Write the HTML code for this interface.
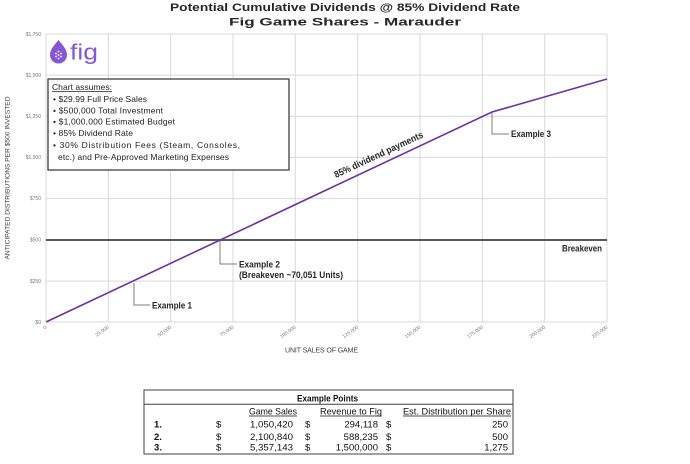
<!DOCTYPE html>
<html><head><meta charset="utf-8">
<style>
html,body{margin:0;padding:0;background:#fff;}
svg{display:block;font-family:"Liberation Sans",Arial,sans-serif;}
</style></head>
<body>
<svg width="690" height="464" viewBox="0 0 690 464" xmlns="http://www.w3.org/2000/svg">
<rect width="690" height="464" fill="#fff"/>
<!-- titles -->
<text x="345" y="11" text-anchor="middle" font-size="11" font-weight="bold" fill="#262626" textLength="350" lengthAdjust="spacingAndGlyphs">Potential Cumulative Dividends @ 85% Dividend Rate</text>
<text x="345" y="25.5" text-anchor="middle" font-size="11" font-weight="bold" fill="#262626" textLength="232" lengthAdjust="spacingAndGlyphs">Fig Game Shares - Marauder</text>

<!-- gridlines -->
<g stroke="#d9d9d9" stroke-width="1">
<line x1="46" y1="34" x2="607" y2="34"/>
<line x1="46" y1="75.1" x2="607" y2="75.1"/>
<line x1="46" y1="116.3" x2="607" y2="116.3"/>
<line x1="46" y1="157.4" x2="607" y2="157.4"/>
<line x1="46" y1="198.6" x2="607" y2="198.6"/>
<line x1="46" y1="281.1" x2="607" y2="281.1"/>
<line x1="46" y1="322" x2="607" y2="322"/>
<line x1="46" y1="34" x2="46" y2="322"/>
<line x1="108.3" y1="34" x2="108.3" y2="322"/>
<line x1="170.7" y1="34" x2="170.7" y2="322"/>
<line x1="233" y1="34" x2="233" y2="322"/>
<line x1="295.3" y1="34" x2="295.3" y2="322"/>
<line x1="357.7" y1="34" x2="357.7" y2="322"/>
<line x1="420" y1="34" x2="420" y2="322"/>
<line x1="482.3" y1="34" x2="482.3" y2="322"/>
<line x1="544.7" y1="34" x2="544.7" y2="322"/>
<line x1="607" y1="34" x2="607" y2="322"/>
</g>

<!-- y tick labels -->
<g font-size="5" fill="#777" text-anchor="end">
<text x="41" y="36">$1,750</text>
<text x="41" y="77">$1,500</text>
<text x="41" y="118">$1,250</text>
<text x="41" y="159">$1,000</text>
<text x="41" y="200">$750</text>
<text x="41" y="241.5">$500</text>
<text x="41" y="283">$250</text>
<text x="41" y="324">$0</text>
</g>

<!-- x tick labels -->
<g font-size="5" fill="#777" text-anchor="end">
<text transform="translate(47,328) rotate(-35)">0</text>
<text transform="translate(109.3,328) rotate(-35)">25,000</text>
<text transform="translate(171.7,328) rotate(-35)">50,000</text>
<text transform="translate(234,328) rotate(-35)">75,000</text>
<text transform="translate(296.3,328) rotate(-35)">100,000</text>
<text transform="translate(358.7,328) rotate(-35)">125,000</text>
<text transform="translate(421,328) rotate(-35)">150,000</text>
<text transform="translate(483.3,328) rotate(-35)">175,000</text>
<text transform="translate(545.7,328) rotate(-35)">200,000</text>
<text transform="translate(608,328) rotate(-35)">225,000</text>
</g>

<!-- axis titles -->
<text x="285" y="352.5" font-size="7" fill="#404040" textLength="73" lengthAdjust="spacing">UNIT SALES OF GAME</text>
<text transform="translate(9.5,178) rotate(-90)" text-anchor="middle" font-size="6.5" fill="#404040" textLength="163" lengthAdjust="spacingAndGlyphs">ANTICIPATED DISTRIBUTIONS  PER $500 INVESTED</text>

<!-- breakeven line -->
<line x1="46" y1="240" x2="607" y2="240" stroke="#595959" stroke-width="2"/>

<!-- series -->
<polyline points="46,322 492,112 607,79" fill="none" stroke="#7030a0" stroke-width="1.6"/>

<!-- callouts -->
<g stroke="#7f7f7f" stroke-width="1" fill="none">
<polyline points="134,283 134,305 150,305"/>
<polyline points="220,241 220,264 237,264"/>
<polyline points="492,113 492,134 509,134"/>
</g>
<g font-size="9.5" font-weight="bold" fill="#262626">
<text x="152" y="308.5" textLength="40" lengthAdjust="spacingAndGlyphs">Example 1</text>
<text x="239" y="267.5" textLength="41" lengthAdjust="spacingAndGlyphs">Example 2</text>
<text x="239" y="278" textLength="104" lengthAdjust="spacingAndGlyphs">(Breakeven ~70,051 Units)</text>
<text x="511" y="137" textLength="40" lengthAdjust="spacingAndGlyphs">Example 3</text>
<text x="562" y="251.5" textLength="40" lengthAdjust="spacingAndGlyphs">Breakeven</text>
<text transform="translate(336,178) rotate(-25)" textLength="97" lengthAdjust="spacingAndGlyphs">85% dividend payments</text>
</g>

<!-- logo -->
<path d="M58.5,40 C62,44.5 67,49 67,55 A8.5,8.5 0 0 1 50,55 C50,49 55,44.5 58.5,40 Z" fill="#8657d3"/>
<g fill="#fff">
<circle cx="58.5" cy="51.5" r="0.9"/>
<circle cx="56" cy="53.5" r="0.9"/><circle cx="61" cy="53.5" r="0.9"/>
<circle cx="58.5" cy="55" r="0.9"/>
<circle cx="56" cy="56.5" r="0.9"/><circle cx="61" cy="56.5" r="0.9"/>
<circle cx="58.5" cy="58.5" r="0.9"/>
</g>
<text x="70" y="59.5" font-size="22" fill="#8657d3" textLength="28" lengthAdjust="spacingAndGlyphs">fig</text>

<!-- assumptions box -->
<rect x="48" y="79" width="241" height="91" fill="#fff" stroke="#404040" stroke-width="1.3"/>
<g font-size="8.5" fill="#222">
<text x="52" y="90" textLength="60" lengthAdjust="spacingAndGlyphs">Chart assumes:</text>
<line x1="52" y1="91.5" x2="112" y2="91.5" stroke="#222" stroke-width="0.7"/>
<text x="53" y="102" textLength="94" lengthAdjust="spacing">• $29.99 Full Price Sales</text>
<text x="53" y="113.5" textLength="110" lengthAdjust="spacing">• $500,000 Total Investment</text>
<text x="53" y="124.5" textLength="122" lengthAdjust="spacing">• $1,000,000  Estimated Budget</text>
<text x="53" y="136" textLength="80" lengthAdjust="spacing">• 85% Dividend Rate</text>
<text x="53" y="148" textLength="187" lengthAdjust="spacing">• 30% Distribution Fees (Steam, Consoles,</text>
<text x="58" y="160" textLength="171" lengthAdjust="spacing">etc.) and Pre-Approved Marketing Expenses</text>
</g>

<!-- table -->
<rect x="144" y="390" width="369" height="64" fill="#fff" stroke="#404040" stroke-width="1"/>
<line x1="144" y1="404.3" x2="513" y2="404.3" stroke="#404040" stroke-width="1"/>
<g font-size="9.5" fill="#111">
<text x="297" y="401.5" font-weight="bold" textLength="61" lengthAdjust="spacingAndGlyphs">Example Points</text>
<text x="249" y="414.5" textLength="48" lengthAdjust="spacingAndGlyphs">Game Sales</text>
<line x1="249" y1="416" x2="297" y2="416" stroke="#111" stroke-width="0.7"/>
<text x="320" y="414.5" textLength="62" lengthAdjust="spacingAndGlyphs">Revenue to Fig</text>
<line x1="320" y1="416" x2="382" y2="416" stroke="#111" stroke-width="0.7"/>
<text x="403" y="414.5" textLength="108" lengthAdjust="spacingAndGlyphs">Est. Distribution per Share</text>
<line x1="403" y1="416" x2="511" y2="416" stroke="#111" stroke-width="0.7"/>

<g font-weight="bold">
<text x="154" y="427.5">1.</text>
<text x="154" y="440">2.</text>
<text x="154" y="450.5">3.</text>
</g>
<text x="216" y="427.5">$</text>
<text x="216" y="440">$</text>
<text x="216" y="450.5">$</text>
<g text-anchor="end">
<text x="293" y="427.5" textLength="43" lengthAdjust="spacingAndGlyphs">1,050,420</text>
<text x="293" y="440" textLength="43" lengthAdjust="spacingAndGlyphs">2,100,840</text>
<text x="293" y="450.5" textLength="43" lengthAdjust="spacingAndGlyphs">5,357,143</text>
</g>
<text x="305" y="427.5">$</text>
<text x="305" y="440">$</text>
<text x="305" y="450.5">$</text>
<g text-anchor="end">
<text x="378" y="427.5">294,118</text>
<text x="378" y="440">588,235</text>
<text x="378" y="450.5">1,500,000</text>
</g>
<text x="386" y="427.5">$</text>
<text x="386" y="440">$</text>
<text x="386" y="450.5">$</text>
<g text-anchor="end">
<text x="508" y="427.5">250</text>
<text x="508" y="440">500</text>
<text x="508" y="450.5">1,275</text>
</g>
</g>
</svg>
</body></html>
